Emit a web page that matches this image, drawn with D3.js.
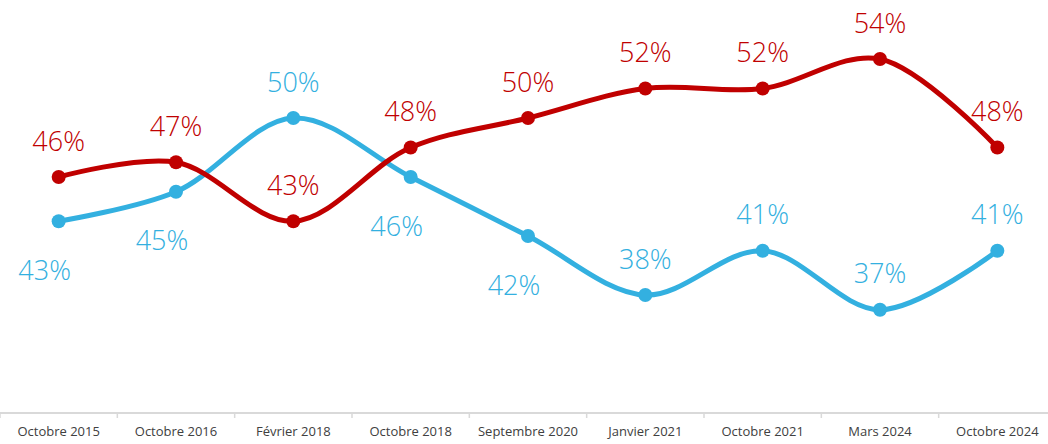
<!DOCTYPE html>
<html>
<head>
<meta charset="utf-8">
<script src="https://cdn.jsdelivr.net/npm/d3@7"></script>
<style>
	body { margin: 0; background: #fff; }
	svg { display: block; }
</style>
</head>
<body>
<svg id="svg" width="1048" height="444"></svg>
<script>
// categories and both series
var categories = ["Octobre 2015", "Octobre 2016", "Février 2018", "Octobre 2018",
	"Septembre 2020", "Janvier 2021", "Octobre 2021", "Mars 2024", "Octobre 2024"];
var redValues = [46, 47, 43, 48, 50, 52, 52, 54, 48];
var blueValues = [43, 45, 50, 46, 42, 38, 41, 37, 41];
// where each blue label sits relative to its point
var blueLabelSide = ["below", "below", "above", "below", "below", "above", "above", "above", "above"];

var CH = {};

CH.width = 1048;
CH.height = 444;
CH.axisY = 413;

CH.x = d3.scaleBand()
	.domain(categories)
	.range([0, 1056]);

CH.y = d3.scaleLinear()
	.domain([30, 58])
	.range([CH.axisY, 0]);

CH.cx = function(d, i){
	return CH.x(categories[i]) + CH.x.bandwidth() / 2;
};

CH.drawAxis = function(svg){
	var axis = d3.axisBottom(CH.x).tickSize(0).tickPadding(14);
	var g = svg.append('g')
		.attr('transform', 'translate(0,' + CH.axisY + ')')
		.call(axis);

	g.select('.domain').remove();
	g.append('line')
		.attr('x1', 0)
		.attr('x2', CH.width)
		.attr('stroke', '#d9d9d9')
		.attr('stroke-width', 2);

	// small separators between the categories
	g.selectAll('.sep')
		.data(categories)
		.enter()
		.append('line')
		.attr('class', 'sep')
		.attr('x1', function(d){ return CH.x(d); })
		.attr('x2', function(d){ return CH.x(d); })
		.attr('y1', 0)
		.attr('y2', 5)
		.attr('stroke', '#d9d9d9')
		.attr('stroke-width', 1.5);

	g.selectAll('.tick text')
		.style('font-family', '"Open Sans", sans-serif')
		.style('font-size', '13px')
		.style('fill', '#404040');
};

CH.drawSeries = function(svg, values, color, labelDy){
	var line = d3.line()
		.x(function(d, i){ return CH.cx(d, i); })
		.y(function(d){ return CH.y(d); })
		.curve(d3.curveCatmullRom.alpha(0.5));

	var g = svg.append('g');

	g.append('path')
		.datum(values)
		.attr('d', line)
		.attr('fill', 'none')
		.attr('stroke', color)
		.attr('stroke-width', 5)
		.attr('stroke-linecap', 'round');

	g.selectAll('circle')
		.data(values)
		.enter()
		.append('circle')
		.attr('cx', CH.cx)
		.attr('cy', function(d){ return CH.y(d); })
		.attr('r', 7)
		.attr('fill', color);

	g.selectAll('text')
		.data(values)
		.enter()
		.append('text')
		.attr('x', function(d, i){ return CH.cx(d, i) + labelDy(i).dx; })
		.attr('y', function(d, i){ return CH.y(d) + labelDy(i).dy; })
		.attr('text-anchor', 'middle')
		.attr('dominant-baseline', 'central')
		.style('font-family', '"Open Sans", sans-serif')
		.style('font-size', '27px')
		.style('font-weight', 300)
		.style('fill', color)
		.text(function(d){ return d + '%'; });
};

var svg = d3.select('#svg');

CH.drawAxis(svg);

CH.drawSeries(svg, blueValues, '#33b0e0', function(i){
	return blueLabelSide[i] === 'below' ? { dx: -14, dy: 48 } : { dx: 0, dy: -37 };
});

CH.drawSeries(svg, redValues, '#c00000', function(i){
	return { dx: 0, dy: -37 };
});
</script>
</body>
</html>
